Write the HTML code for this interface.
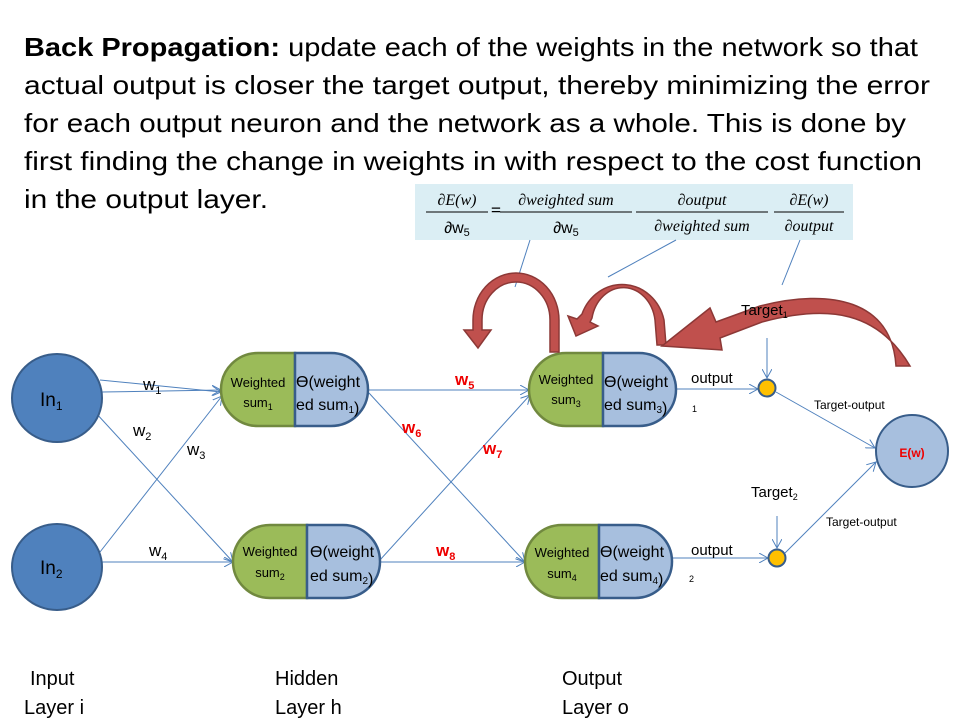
<!DOCTYPE html>
<html><head><meta charset="utf-8"><style>
body{margin:0;width:960px;height:720px;background:#fff;overflow:hidden;font-family:"Liberation Sans",sans-serif}
svg{position:absolute;left:0;top:0}
</style></head><body>
<svg width="960" height="720" viewBox="0 0 960 720" font-family="Liberation Sans, sans-serif">
<defs><marker id="a" markerWidth="10" markerHeight="10" refX="9" refY="5" orient="auto" markerUnits="userSpaceOnUse"><path d="M0,0 L9,5 L0,10" fill="none" stroke="#4f81bd" stroke-width="1"/></marker></defs>
<g font-size="26">
<text x="24" y="56" textLength="894" lengthAdjust="spacingAndGlyphs"><tspan font-weight="bold">Back Propagation:</tspan> update each of the weights in the network so that</text>
<text x="24" y="94" textLength="906" lengthAdjust="spacingAndGlyphs">actual output is closer the target output, thereby minimizing the error</text>
<text x="24" y="132" textLength="882" lengthAdjust="spacingAndGlyphs">for each output neuron and the network as a whole.  This is done by</text>
<text x="24" y="170" textLength="898" lengthAdjust="spacingAndGlyphs">first finding the change in weights in with respect to the cost function</text>
<text x="24" y="208" textLength="244" lengthAdjust="spacingAndGlyphs">in the output layer.</text>
</g>
<rect x="415" y="184" width="438" height="56" fill="#dbeef4"/>
<g font-family="Liberation Serif, serif" font-style="italic" font-size="16" text-anchor="middle">
<text x="457" y="205">∂E(w)</text><line x1="426" y1="212" x2="488" y2="212" stroke="#000"/><text x="457" y="233" font-style="normal" font-family="Liberation Sans">∂w<tspan font-size="11" dy="3">5</tspan></text>
<text x="496" y="216" font-style="normal" font-weight="bold" font-size="18">=</text>
<text x="566" y="205">∂weighted sum</text><line x1="500" y1="212" x2="632" y2="212" stroke="#000"/><text x="566" y="233" font-style="normal" font-family="Liberation Sans">∂w<tspan font-size="11" dy="3">5</tspan></text>
<text x="702" y="205">∂output</text><line x1="636" y1="212" x2="768" y2="212" stroke="#000"/><text x="702" y="231">∂weighted sum</text>
<text x="809" y="205">∂E(w)</text><line x1="774" y1="212" x2="844" y2="212" stroke="#000"/><text x="809" y="231">∂output</text>
</g>
<g stroke="#4f81bd" stroke-width="1" fill="none">
<line x1="530" y1="240" x2="515" y2="287"/><line x1="676" y1="240" x2="608" y2="277"/><line x1="800" y1="240" x2="782" y2="285"/>
</g>
<g stroke="#4f81bd" stroke-width="1" marker-end="url(#a)">
<line x1="102" y1="392" x2="221" y2="390"/><line x1="100" y1="380" x2="221" y2="392"/>
<line x1="95" y1="412" x2="233" y2="562"/><line x1="100" y1="552" x2="222" y2="396"/>
<line x1="102" y1="562" x2="233" y2="562"/>
<line x1="367" y1="390" x2="529" y2="390"/><line x1="369" y1="393" x2="525" y2="562"/>
<line x1="380" y1="560" x2="530" y2="395"/><line x1="380" y1="562" x2="525" y2="562"/>
<line x1="676" y1="389" x2="758" y2="389"/><line x1="672" y1="558" x2="768" y2="558"/>
<line x1="767" y1="338" x2="767" y2="378"/><line x1="777" y1="516" x2="777" y2="548"/>
<line x1="776" y1="392" x2="875" y2="448"/><line x1="785" y1="553" x2="876" y2="462"/>
</g>
<ellipse cx="57" cy="398" rx="45" ry="44" fill="#4f81bd" stroke="#385d8a" stroke-width="2"/>
<ellipse cx="57" cy="567" rx="45" ry="43" fill="#4f81bd" stroke="#385d8a" stroke-width="2"/>
<text x="40" y="406" font-size="19">In<tspan font-size="12" dy="4">1</tspan></text>
<text x="40" y="574" font-size="19">In<tspan font-size="12" dy="4">2</tspan></text>
<g stroke="#385d8a" stroke-width="2.5">
<g transform="translate(221,353)"><path d="M37,0 H74 V73 H37 A37,36.5 0 0 1 37,0Z" fill="#9bbb59" stroke="#71893f"/><path d="M74,0 H110 A37,36.5 0 0 1 110,73 H74Z" fill="#a7bfde"/></g>
<g transform="translate(233,525)"><path d="M37,0 H74 V73 H37 A37,36.5 0 0 1 37,0Z" fill="#9bbb59" stroke="#71893f"/><path d="M74,0 H110 A37,36.5 0 0 1 110,73 H74Z" fill="#a7bfde"/></g>
<g transform="translate(529,353)"><path d="M37,0 H74 V73 H37 A37,36.5 0 0 1 37,0Z" fill="#9bbb59" stroke="#71893f"/><path d="M74,0 H110 A37,36.5 0 0 1 110,73 H74Z" fill="#a7bfde"/></g>
<g transform="translate(525,525)"><path d="M37,0 H74 V73 H37 A37,36.5 0 0 1 37,0Z" fill="#9bbb59" stroke="#71893f"/><path d="M74,0 H110 A37,36.5 0 0 1 110,73 H74Z" fill="#a7bfde"/></g>
</g>
<g font-size="13" text-anchor="middle">
<text x="258" y="387">Weighted</text><text x="258" y="407">sum<tspan font-size="9" dy="3">1</tspan></text>
<text x="270" y="556">Weighted</text><text x="270" y="577">sum<tspan font-size="9" dy="3">2</tspan></text>
<text x="566" y="384">Weighted</text><text x="566" y="404">sum<tspan font-size="9" dy="3">3</tspan></text>
<text x="562" y="557">Weighted</text><text x="562" y="578">sum<tspan font-size="9" dy="3">4</tspan></text>
</g>
<g font-size="16">
<text x="296" y="387">ϴ(weight</text><text x="296" y="410">ed sum<tspan font-size="10" dy="3">1</tspan>)</text>
<text x="310" y="557">ϴ(weight</text><text x="310" y="581">ed sum<tspan font-size="10" dy="3">2</tspan>)</text>
<text x="604" y="387">ϴ(weight</text><text x="604" y="410">ed sum<tspan font-size="10" dy="3">3</tspan>)</text>
<text x="600" y="557">ϴ(weight</text><text x="600" y="581">ed sum<tspan font-size="10" dy="3">4</tspan>)</text>
</g>
<g font-size="17">
<text x="143" y="390">w<tspan font-size="11" dy="4">1</tspan></text>
<text x="133" y="436">w<tspan font-size="11" dy="4">2</tspan></text>
<text x="187" y="455">w<tspan font-size="11" dy="4">3</tspan></text>
<text x="149" y="556">w<tspan font-size="11" dy="4">4</tspan></text>
</g>
<g font-size="17" fill="#e00" font-weight="bold">
<text x="455" y="385">w<tspan font-size="11" dy="4">5</tspan></text>
<text x="402" y="433">w<tspan font-size="11" dy="4">6</tspan></text>
<text x="483" y="454">w<tspan font-size="11" dy="4">7</tspan></text>
<text x="436" y="556">w<tspan font-size="11" dy="4">8</tspan></text>
</g>
<g fill="#c0504d" stroke="#8c3836" stroke-width="1.5">
<path d="M550,352 L550,320 A34,38 0 0 0 482,320 L482,330 L491,330 L478,348 L464,330 L473,330 L473,320 A43,47 0 0 1 559,320 L559,352Z"/>
<path d="M657,345 L655,320 A32,38 0 0 0 592,318 L590,322 L598,326 L576,336 L568,316 L577,319 L582,314 A43,46 0 0 1 664,320 L666,345Z"/>
<path d="M896,366 C892,300 830,288 760,306 L716,322 L710,308 L662,346 L722,350 L720,338 L762,322 C830,304 878,312 910,366Z"/>
</g>
<g font-size="15"><text x="691" y="383">output</text><text x="691" y="555">output</text>
<text x="741" y="315">Target<tspan font-size="9" dy="3">1</tspan></text>
<text x="751" y="497">Target<tspan font-size="9" dy="3">2</tspan></text></g>
<text x="692" y="412" font-size="9">1</text><text x="689" y="582" font-size="9">2</text>
<text x="814" y="409" font-size="12">Target-output</text><text x="826" y="526" font-size="12">Target-output</text>
<circle cx="767" cy="388" r="8.5" fill="#ffc000" stroke="#385d8a" stroke-width="2"/>
<circle cx="777" cy="558" r="8.5" fill="#ffc000" stroke="#385d8a" stroke-width="2"/>
<circle cx="912" cy="451" r="36" fill="#a7bfde" stroke="#385d8a" stroke-width="2"/>
<text x="912" y="457" font-size="12" fill="#e00" font-weight="bold" text-anchor="middle">E(w)</text>
<g font-size="20">
<text x="30" y="685">Input</text><text x="24" y="714">Layer i</text>
<text x="275" y="685">Hidden</text><text x="275" y="714">Layer h</text>
<text x="562" y="685">Output</text><text x="562" y="714">Layer o</text>
</g>
</svg>
</body></html>
